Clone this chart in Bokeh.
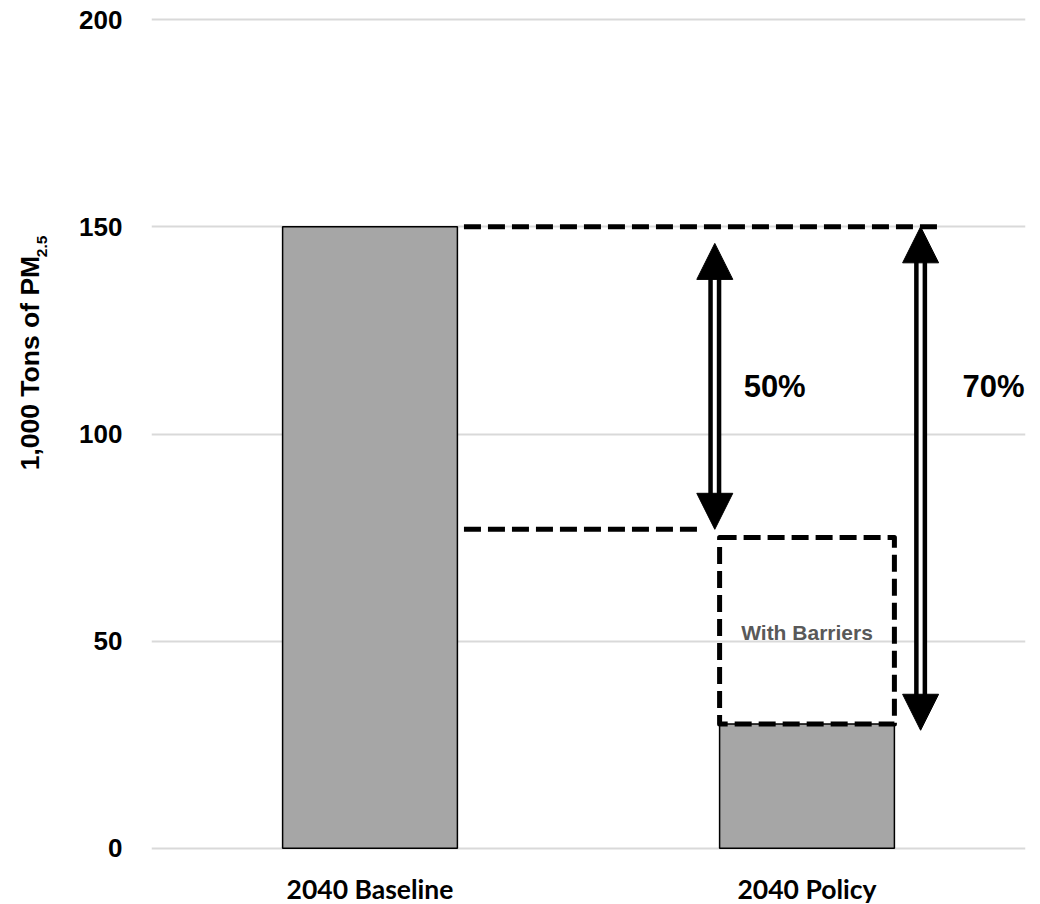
import math
from bokeh.plotting import figure
from bokeh.layouts import row
from bokeh.models import Arrow, NormalHead, FixedTicker
from bokeh.core.properties import value
from bokeh.embed import file_html
from bokeh.resources import INLINE

# ---- data ----
categories = ["2040 Baseline", "2040 Policy"]
emissions = [150, 30]            # 1,000 tons PM2.5
with_barriers_top = 75           # top of dashed "With Barriers" box
barrier_level = 77               # dashed reference line (policy with barriers)
arrow50 = (146, 77)              # 50% reduction arrow (top, bottom)
arrow70 = (150, 28.5)            # 70% reduction arrow (top, bottom)
pct_labels = ["50%", "70%"]
y_ticks = [0, 50, 100, 150, 200]
y_title_main = "1,000 Tons of PM"
y_title_sub = "2.5"

# ---- layout constants ----
PAGE_H = 904
LEFT_W = 60
Y_LO, Y_HI = -1, 201
FRAME_W, FRAME_H = 874, 837
BAR_W = 0.4
ARROW_X = [1.289, 1.76]
PCT_X = [1.426, 1.927]
PCT_Y = 111.5
TOP_LINE_X = (0.715, 1.80)
MID_LINE_X = (0.715, 1.249)
HEAD = 36  # px

AX_FONT = "Liberation Sans"

xs = [i + 0.5 for i in range(len(categories))]

p = figure(
    frame_width=FRAME_W, frame_height=FRAME_H,
    x_range=(0, len(categories)), y_range=(Y_LO, Y_HI),
    output_backend="svg", toolbar_location=None,
    min_border_left=151 - LEFT_W, min_border_right=15, min_border_top=15, min_border_bottom=40,
)
p.outline_line_color = None
p.background_fill_color = "white"
p.border_fill_color = "white"

# grid
p.xgrid.visible = False
p.ygrid.ticker = FixedTicker(ticks=y_ticks)
p.ygrid.grid_line_color = "#d9d9d9"
p.ygrid.grid_line_width = 2

# y axis
p.yaxis.ticker = FixedTicker(ticks=y_ticks)
p.yaxis.axis_line_color = None
p.yaxis.major_tick_line_color = None
p.yaxis.minor_tick_line_color = None
p.yaxis.major_tick_out = 0
p.yaxis.major_label_standoff = 29
p.yaxis.major_label_text_font = AX_FONT
p.yaxis.major_label_text_font_style = "bold"
p.yaxis.major_label_text_font_size = "26px"
p.yaxis.major_label_text_color = "black"

# x axis
p.xaxis.ticker = FixedTicker(ticks=xs)
p.xaxis.major_label_overrides = {x: c for x, c in zip(xs, categories)}
p.xaxis.axis_line_color = None
p.xaxis.major_tick_line_color = None
p.xaxis.minor_tick_line_color = None
p.xaxis.major_tick_out = 0
p.xaxis.major_label_standoff = 20
p.xaxis.major_label_text_font = "Lato"
p.xaxis.major_label_text_font_style = "bold"
p.xaxis.major_label_text_font_size = "26.5px"
p.xaxis.major_label_text_color = "black"

# bars
p.vbar(x=xs, top=emissions, width=BAR_W, bottom=0,
       fill_color="#a6a6a6", line_color="black", line_width=1.5)

# dashed reference lines
DASH = "17 7"
p.segment(x0=[TOP_LINE_X[0]], x1=[TOP_LINE_X[1]], y0=[emissions[0]], y1=[emissions[0]],
          line_color="black", line_width=5, line_dash=DASH)
p.segment(x0=[MID_LINE_X[0]], x1=[MID_LINE_X[1]], y0=[barrier_level], y1=[barrier_level],
          line_color="black", line_width=5, line_dash=DASH)

# dashed "With Barriers" box over policy bar
p.quad(left=[xs[1] - BAR_W / 2], right=[xs[1] + BAR_W / 2],
       bottom=[emissions[1]], top=[with_barriers_top],
       fill_alpha=0, line_color="black", line_width=5, line_dash=DASH, line_join="round")
p.text(x=[xs[1]], y=[52], text=["With Barriers"], text_align="center", text_baseline="middle",
       text_font=value(AX_FONT), text_font_style="bold",
       text_font_size="21px", text_color="#595959")

# double-shaft arrows
data_per_px = (Y_HI - Y_LO) / FRAME_H
for ax, (top, bot) in zip(ARROW_X, [arrow50, arrow70]):
    off = 20 * data_per_px
    p.segment(x0=[ax], x1=[ax], y0=[top - off], y1=[bot + off], line_color="black", line_width=13)
    p.segment(x0=[ax], x1=[ax], y0=[top - off], y1=[bot + off], line_color="white", line_width=4)
    p.add_layout(Arrow(
        x_start=ax, y_start=bot, x_end=ax, y_end=top, line_alpha=0,
        start=NormalHead(size=HEAD, fill_color="black", line_color="black", line_width=1),
        end=NormalHead(size=HEAD, fill_color="black", line_color="black", line_width=1),
    ))

# percent labels
p.text(x=PCT_X, y=[PCT_Y] * 2, text=pct_labels, text_align="center", text_baseline="middle",
       text_font=value(AX_FONT), text_font_style="bold", text_font_size="31px",
       text_color="black")

# ---- y-axis title panel (pixel coordinates, with subscript) ----
t = figure(width=LEFT_W, height=PAGE_H, x_range=(0, LEFT_W), y_range=(0, PAGE_H),
           output_backend="svg", toolbar_location=None,
           x_axis_location=None, y_axis_location=None,
           min_border_left=0, min_border_right=0, min_border_top=0, min_border_bottom=0)
t.grid.visible = False
t.outline_line_color = None
t.background_fill_color = "white"
t.border_fill_color = "white"

TITLE_PX = 26.5
SUB_PX = 15.5
# anchors (pixel positions inside the title panel; y measured from panel bottom)
MAIN_ANCHOR = (29, PAGE_H - 493)
SUB_ANCHOR = (41, PAGE_H - 262)
t.text(x=[MAIN_ANCHOR[0]], y=[MAIN_ANCHOR[1]], text=[y_title_main], angle=math.pi / 2,
       text_align="left", text_baseline="alphabetic",
       text_font=value(AX_FONT), text_font_style="bold",
       text_font_size=f"{TITLE_PX}px", text_color="black")
t.text(x=[SUB_ANCHOR[0]], y=[SUB_ANCHOR[1]], text=[y_title_sub], angle=math.pi / 2,
       text_align="left", text_baseline="alphabetic",
       text_font=value(AX_FONT), text_font_style="bold",
       text_font_size=f"{SUB_PX}px", text_color="black")

layout = row(t, p, spacing=0)
open("out.html", "w").write(file_html(layout, INLINE))
